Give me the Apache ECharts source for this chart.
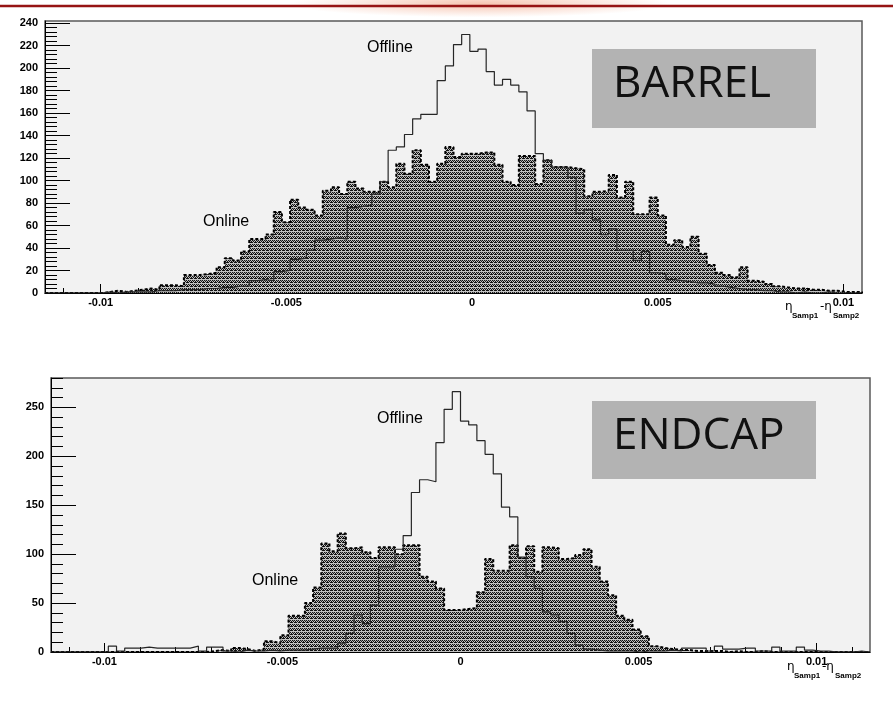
<!DOCTYPE html>
<html>
<head>
<meta charset="utf-8">
<script src="https://cdn.jsdelivr.net/npm/echarts@6/dist/echarts.min.js"></script>
<style>
  html, body { margin: 0; padding: 0; background: #fff; }
  #chart { width: 893px; height: 703px; }
</style>
</head>
<body>
<div id="chart"></div>
<script>
// η(Samp1) − η(Samp2): online vs offline, 100 bins per panel
const barrelRange = [-0.0115, 0.0105];
const endcapRange = [-0.0115, 0.0115];

const barrelOffline = [
  0, 0, 0, 0, 0, 0, 0, 1, 0, 1,
  1, 1, 1, 2, 2, 2, 3, 3, 3, 4,
  4, 5, 5, 6, 6, 11, 12, 11, 19, 20,
  30, 31, 38, 47, 48, 49, 48, 76, 77, 78,
  88, 99, 127, 130, 141, 155, 159, 159, 189, 202,
  221, 230, 215, 217, 197, 185, 190, 185, 179, 162,
  124, 118, 112, 112, 103, 71, 74, 65, 52, 57,
  38, 38, 29, 37, 18, 17, 12, 11, 10, 9,
  9, 8, 6, 5, 4, 3, 3, 2, 2, 1,
  1, 0, 1, 0, 0, 1, 0, 0, 0, 0
];
const barrelOnline = [
  0, 0, 0, 0, 0, 0, 0, 1, 2, 1,
  2, 3, 4, 3, 7, 7, 6, 16, 16, 17,
  18, 23, 31, 29, 37, 48, 48, 52, 72, 63,
  83, 76, 74, 69, 91, 94, 88, 99, 93, 90,
  90, 99, 94, 115, 106, 127, 114, 99, 115, 130,
  121, 124, 124, 125, 125, 114, 99, 96, 122, 122,
  97, 118, 112, 112, 111, 110, 86, 90, 91, 105,
  85, 99, 70, 70, 85, 69, 43, 47, 41, 50,
  35, 25, 18, 16, 14, 23, 11, 10, 8, 6,
  5, 4, 4, 3, 3, 2, 2, 1, 1, 1
];
const endcapOffline = [
  0, 0, 0, 0, 0, 0, 0, 6, 1, 4,
  4, 5, 4, 4, 4, 4, 4, 6, 1, 5,
  5, 1, 0, 2, 1, 1, 2, 1, 2, 2,
  2, 3, 4, 4, 4, 9, 19, 38, 29, 48,
  87, 87, 105, 119, 163, 176, 174, 214, 248, 266,
  236, 232, 216, 202, 182, 148, 138, 97, 77, 65,
  41, 38, 31, 19, 7, 3, 2, 1, 1, 1,
  1, 0, 1, 1, 1, 2, 1, 4, 4, 4,
  1, 6, 3, 3, 4, 4, 1, 1, 5, 1,
  1, 5, 2, 1, 1, 0, 0, 0, 1, 0
];
const endcapOnline = [
  0, 0, 0, 0, 0, 0, 0, 0, 0, 0,
  0, 0, 0, 0, 0, 0, 0, 0, 0, 1,
  2, 1, 4, 3, 1, 3, 11, 9, 17, 37,
  37, 50, 66, 111, 103, 121, 106, 107, 102, 96,
  107, 107, 100, 109, 109, 77, 72, 65, 43, 43,
  44, 45, 61, 95, 83, 83, 109, 96, 108, 82,
  107, 106, 95, 96, 99, 105, 87, 72, 58, 37,
  33, 23, 16, 6, 4, 3, 2, 2, 1, 1,
  1, 1, 0, 1, 0, 0, 1, 0, 0, 0,
  0, 0, 0, 0, 0, 0, 0, 0, 0, 0
];

const xTickLabels = [-0.01, -0.005, 0, 0.005, 0.01];
const barrelYTicks = [0, 20, 40, 60, 80, 100, 120, 140, 160, 180, 200, 220, 240];
const endcapYTicks = [0, 50, 100, 150, 200, 250];
const barrelYMax = 242;
const endcapYMax = 280;

// subdivide between major ticks for the short ticks
function minorTicks(major, parts, max) {
  const step = (major[1] - major[0]) / parts;
  const out = [];
  for (let v = major[0]; v <= max + 1e-9; v += step) out.push(+v.toFixed(6));
  return out;
}
function minorXTicks(range) {
  const out = [];
  for (let k = Math.ceil(range[0] / 0.001 - 1e-9); k <= Math.floor(range[1] / 0.001 + 1e-9); k++) {
    out.push(+(k * 0.001).toFixed(4));
  }
  return out;
}

// step outline of a histogram: bin left edges plus closing edge
function histPoints(range, counts) {
  const w = (range[1] - range[0]) / counts.length;
  const pts = [[range[0], 0]];
  counts.forEach((c, i) => pts.push([range[0] + i * w, c]));
  pts.push([range[1], counts[counts.length - 1]]);
  pts.push([range[1], 0]);
  return pts;
}

// dense dotted hatch used for the online histograms
function hatchPattern() {
  const c = document.createElement('canvas');
  c.width = 4; c.height = 4;
  const g = c.getContext('2d');
  g.fillStyle = '#c2c2c2';
  g.fillRect(0, 0, 4, 4);
  g.fillStyle = '#121212';
  [[0, 0], [2, 0], [1, 1], [3, 1], [0, 2], [2, 2], [3, 2]].forEach(([x, y]) => g.fillRect(x, y, 1, 1));
  g.fillStyle = '#8a8a8a';
  g.fillRect(1, 0, 1, 1);
  return c;
}
const hatch = { image: hatchPattern(), repeat: 'repeat' };

const tickFont = { fontFamily: 'Liberation Sans', fontWeight: 'bold', fontSize: 11, color: '#000' };

function xAxes(gridIndex, range) {
  return [
    {
      gridIndex, type: 'value', min: range[0], max: range[1], position: 'bottom',
      axisLine: { show: true, onZero: false, lineStyle: { color: '#000', width: 1 } },
      axisTick: { show: true, inside: true, length: 9, customValues: xTickLabels, lineStyle: { color: '#000' } },
      axisLabel: Object.assign({ show: true, customValues: xTickLabels, margin: 4, formatter: v => String(v) }, tickFont),
      splitLine: { show: false }
    },
    {
      gridIndex, type: 'value', min: range[0], max: range[1], position: 'bottom',
      axisLine: { show: false, onZero: false },
      axisTick: { show: true, inside: true, length: 5, customValues: minorXTicks(range), lineStyle: { color: '#000' } },
      axisLabel: { show: false },
      splitLine: { show: false }
    }
  ];
}
function yAxes(gridIndex, ticks, max) {
  return [
    {
      gridIndex, type: 'value', min: 0, max, position: 'left',
      axisLine: { show: true, onZero: false, lineStyle: { color: '#000', width: 1 } },
      axisTick: { show: true, inside: true, length: 25, customValues: ticks, lineStyle: { color: '#000' } },
      axisLabel: Object.assign({ show: true, customValues: ticks, margin: 7 }, tickFont),
      splitLine: { show: false }
    },
    {
      gridIndex, type: 'value', min: 0, max, position: 'left',
      axisLine: { show: false, onZero: false },
      axisTick: { show: true, inside: true, length: 12, customValues: minorTicks(ticks, 5, max), lineStyle: { color: '#000' } },
      axisLabel: { show: false },
      splitLine: { show: false }
    }
  ];
}

function onlineSeries(xi, yi, range, counts) {
  return {
    type: 'line', name: 'Online', xAxisIndex: xi, yAxisIndex: yi,
    data: histPoints(range, counts), step: 'end', symbol: 'none',
    lineStyle: { color: '#000', width: 2, type: [3, 2] },
    areaStyle: { color: hatch, opacity: 1 },
    z: 2
  };
}
function offlineSeries(xi, yi, range, counts) {
  return {
    type: 'line', name: 'Offline', xAxisIndex: xi, yAxisIndex: yi,
    data: histPoints(range, counts), step: 'end', symbol: 'none',
    lineStyle: { color: '#262626', width: 1.2 },
    z: 3
  };
}

const labelStyle = { fontFamily: 'Liberation Sans', fontSize: 16, fill: '#000' };
function note(text, x, y) {
  return { type: 'text', x, y, style: Object.assign({ text, verticalAlign: 'middle' }, labelStyle), z: 10 };
}
function axisTitle(x, y) {
  const big = { fontFamily: 'DejaVu Sans', fontSize: 12, fill: '#000' };
  const sub = { fontFamily: 'Liberation Sans', fontWeight: 'bold', fontSize: 8, fill: '#000' };
  return [
    { type: 'text', x: x, y: y, style: Object.assign({ text: 'η', verticalAlign: 'middle' }, big) },
    { type: 'text', x: x + 7, y: y + 9, style: Object.assign({ text: 'Samp1', verticalAlign: 'middle' }, sub) },
    { type: 'text', x: x + 35, y: y, style: Object.assign({ text: '-η', verticalAlign: 'middle' }, big) },
    { type: 'text', x: x + 48, y: y + 9, style: Object.assign({ text: 'Samp2', verticalAlign: 'middle' }, sub) }
  ];
}
function tagBox(text, x, y, w, h) {
  return [
    { type: 'rect', shape: { x, y, width: w, height: h }, style: { fill: '#b3b3b3' }, z: 10 },
    { type: 'text', x: x + 21, y: y + h / 2 - 4, z: 11,
      style: { text, fontFamily: 'Open Sans', fontSize: 44, fill: '#111', verticalAlign: 'middle' } }
  ];
}

const chart = echarts.init(document.getElementById('chart'), null, { renderer: 'canvas' });
chart.setOption({
  animation: false,
  backgroundColor: '#fff',
  grid: [
    { left: 45, top: 21, width: 817, height: 272, show: true, backgroundColor: '#f2f2f2', borderColor: '#5a5a5a', borderWidth: 1.5 },
    { left: 51, top: 378, width: 819, height: 274, show: true, backgroundColor: '#f2f2f2', borderColor: '#5a5a5a', borderWidth: 1.5 }
  ],
  xAxis: xAxes(0, barrelRange).concat(xAxes(1, endcapRange)),
  yAxis: yAxes(0, barrelYTicks, barrelYMax).concat(yAxes(1, endcapYTicks, endcapYMax)),
  series: [
    onlineSeries(0, 0, barrelRange, barrelOnline),
    offlineSeries(0, 0, barrelRange, barrelOffline),
    onlineSeries(2, 2, endcapRange, endcapOnline),
    offlineSeries(2, 2, endcapRange, endcapOffline)
  ],
  graphic: [
    // page header rule with its soft glow
    { type: 'rect', x: 480, y: 4, scaleY: 0.07, shape: { x: -190, y: -190, width: 380, height: 380 },
      style: { fill: { type: 'radial', x: 0.5, y: 0.5, r: 0.5,
        colorStops: [{ offset: 0, color: 'rgba(238,140,100,0.5)' }, { offset: 1, color: 'rgba(238,140,100,0)' }] } }, z: 0 },
    { type: 'line', shape: { x1: 0, y1: 6, x2: 893, y2: 6 }, style: { stroke: '#961414', lineWidth: 2.5 }, z: 1 },
    note('Offline', 367, 48),
    note('Online', 203, 222),
    note('Offline', 377, 419),
    note('Online', 252, 581),
    ...tagBox('BARREL', 592, 49, 224, 79),
    ...tagBox('ENDCAP', 592, 401, 224, 78),
    ...axisTitle(785, 307),
    ...axisTitle(787, 667)
  ]
});
</script>
</body>
</html>
